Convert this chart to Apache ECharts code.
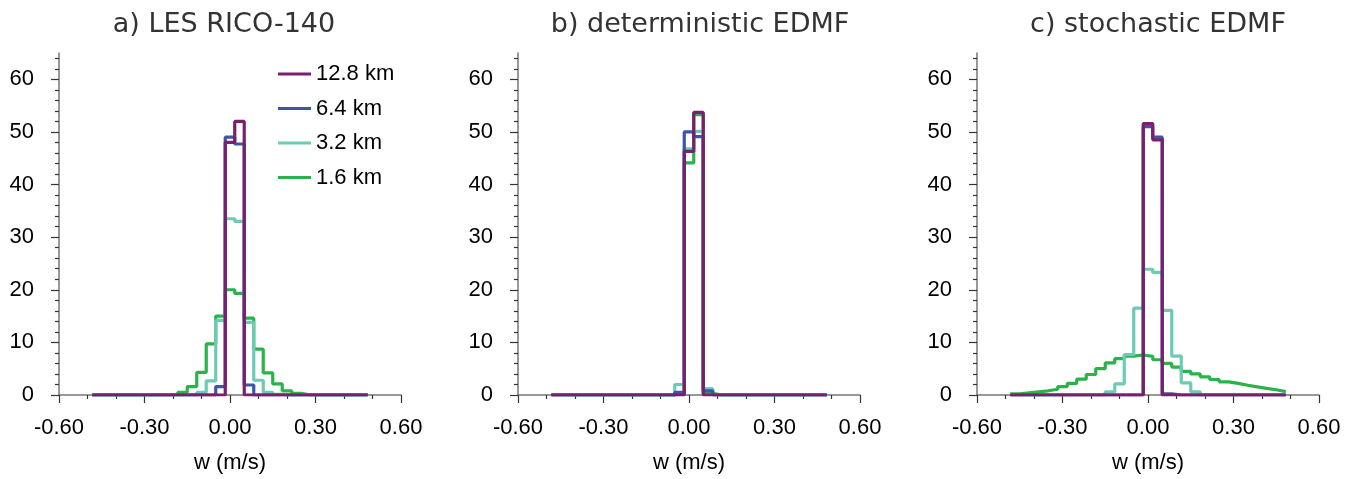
<!DOCTYPE html>
<html>
<head>
<meta charset="utf-8">
<script src="https://cdn.jsdelivr.net/npm/echarts@6/dist/echarts.min.js"></script>
<style>html,body{margin:0;padding:0;background:#fff}#c{width:1353px;height:479px}</style>
</head>
<body>
<div id="c"></div>
<script>
// ---- data ----
const binWidth = 1 / 30;
const binCenters = [-0.4667,-0.4333,-0.4,-0.3667,-0.3333,-0.3,-0.2667,-0.2333,-0.2,-0.1667,-0.1333,-0.1,-0.0667,-0.0333,0,
  0.0333,0.0667,0.1,0.1333,0.1667,0.2,0.2333,0.2667,0.3,0.3333,0.3667,0.4,0.4333,0.4667];
const seriesNames = ['12.8 km','6.4 km','3.2 km','1.6 km'];
const panelTitles = ['a) LES RICO-140','b) deterministic EDMF','c) stochastic EDMF'];
const xTickLabels = ['-0.60','-0.30','0.00','0.30','0.60'];
const yTickLabels = [0,10,20,30,40,50,60];

// panel a: LES
const les128 = [0,0,0,0,0,0,0,0,0,0,0,0,0,0,48.0,52.0,0,0,0,0,0,0,0,0,0,0,0,0,0];
const les64  = [0,0,0,0,0,0,0,0,0,0,0,0,0,1.6,49.0,47.7,1.9,0,0,0,0,0,0,0,0,0,0,0,0];
const les32  = [0,0,0,0,0,0,0,0,0,0,0.1,0.5,2.7,14.2,33.5,33.0,13.8,2.8,0.5,0.1,0,0,0,0,0,0,0,0,0];
const les16  = [0,0,0,0,0,0,0,0,0.1,0.5,1.6,4.3,9.7,15.0,20.0,19.3,14.6,8.7,4.2,2.1,0.8,0.3,0,0,0,0,0,0,0];
// panel b: deterministic EDMF
const det128 = [0,0,0,0,0,0,0,0,0,0,0,0,0,0,46.3,53.7,0,0,0,0,0,0,0,0,0,0,0,0,0];
const det64  = [0,0,0,0,0,0,0,0,0,0,0,0,0,0.5,50.0,49.1,0.8,0,0,0,0,0,0,0,0,0,0,0,0];
const det32  = [0,0,0,0,0,0,0,0,0,0,0,0,0,2.0,46.8,50.1,1.2,0,0,0,0,0,0,0,0,0,0,0,0];
const det16  = [0,0,0,0,0,0,0,0,0,0,0,0,0,0.3,44.1,53.3,0.3,0,0,0,0,0,0,0,0,0,0,0,0];
// panel c: stochastic EDMF
const sto128 = [0,0,0,0,0,0,0,0,0,0,0,0,0,0,51.6,48.5,0,0,0,0,0,0,0,0,0,0,0,0,0];
const sto64  = [0,0,0,0,0,0,0,0,0,0,0,0,0,0,51.0,49.0,0.2,0,0,0,0,0,0,0,0,0,0,0,0];
const sto32  = [0,0,0,0,0,0,0,0,0,0,0.6,2.1,7.7,16.5,23.9,23.3,16.1,7.4,2.3,0.6,0,0,0,0,0,0,0,0,0];
const sto16  = [0.2,0.4,0.6,0.8,1.1,1.6,2.2,3.0,3.9,5.0,6.1,6.9,7.4,7.6,7.35,6.7,6.0,5.3,4.5,4.0,3.45,2.95,2.5,2.2,1.85,1.55,1.25,1.0,0.65];

const panels = [
  [les128, les64, les32, les16],
  [det128, det64, det32, det16],
  [sto128, sto64, sto32, sto16]
];
const colors = ['#7a1f6c','#3b56a8','#6ccbb5','#2bb34b'];

// ---- layout ----
const gridLefts = [59, 518, 977];
const gridWidth = 342, gridTop = 53, gridHeight = 343;
const titleCenters = [219, 695, 1153];
const FONT = 'Liberation Sans';

function stepData(vals) {
  const pts = [];
  vals.forEach((v, i) => {
    pts.push([binCenters[i] - binWidth / 2, v]);
    pts.push([binCenters[i] + binWidth / 2, v]);
  });
  return pts;
}

const grid = [], xAxis = [], yAxis = [], series = [], title = [];
gridLefts.forEach((l, p) => {
  grid.push({left: l, top: gridTop, width: gridWidth, height: gridHeight});
  title.push({text: panelTitles[p], left: titleCenters[p], top: 6, textAlign: 'center',
    textStyle: {fontFamily: 'DejaVu Sans', fontSize: 27, fontWeight: 'normal', color: '#333'}});
  xAxis.push({type: 'value', gridIndex: p, min: -0.6, max: 0.6, interval: 0.3,
    axisLine: {show: true, onZero: false, lineStyle: {color: '#777', width: 1.5}},
    axisTick: {show: true, length: 8, lineStyle: {color: '#333', width: 1.2}},
    minorTick: {show: true, splitNumber: 3, length: 4, lineStyle: {color: '#333', width: 1.2}},
    splitLine: {show: false},
    axisLabel: {margin: 22, fontFamily: FONT, fontSize: 22, color: '#000',
      formatter: v => { const i = Math.round((v + 0.6) / 0.3); return xTickLabels[i]; }},
    name: 'w (m/s)', nameLocation: 'middle', nameGap: 57,
    nameTextStyle: {fontFamily: FONT, fontSize: 22, color: '#000'}
  });
  yAxis.push({type: 'value', gridIndex: p, min: 0, max: 65, interval: 10, position: 'left',
    axisLine: {show: true, onZero: false, lineStyle: {color: '#777', width: 1.5}},
    axisTick: {show: true, length: 8, customValues: yTickLabels, lineStyle: {color: '#333', width: 1.2}},
    splitLine: {show: false},
    axisLabel: {margin: 25, fontFamily: FONT, fontSize: 22, color: '#000', customValues: yTickLabels}
  });
});
gridLefts.forEach((l, p) => {
  const minor = [];
  for (let v = 2; v <= 64; v += 2) if (v % 10 !== 0) minor.push(v);
  yAxis.push({type: 'value', gridIndex: p, min: 0, max: 65, position: 'left',
    axisLine: {show: false, onZero: false}, splitLine: {show: false},
    axisLabel: {show: false},
    axisTick: {show: true, length: 4, customValues: minor, lineStyle: {color: '#333', width: 1.2}}
  });
});
panels.forEach((sets, p) => {
  for (let s = 3; s >= 0; s--) {
    series.push({type: 'line', name: seriesNames[s], xAxisIndex: p, yAxisIndex: p,
      data: stepData(sets[s]), showSymbol: false, symbol: 'none',
      lineStyle: {color: colors[s], width: 3.2}, itemStyle: {color: colors[s]},
      z: 10 - s});
  }
});

const chart = echarts.init(document.getElementById('c'), null, {renderer: 'canvas'});
chart.setOption({
  animation: false,
  backgroundColor: '#fff',
  title, grid, xAxis, yAxis, series,
  legend: {data: seriesNames, orient: 'vertical', left: 273, top: 58,
    itemWidth: 33, itemHeight: 3, itemGap: 12.5, icon: 'rect',
    textStyle: {fontFamily: FONT, fontSize: 22, color: '#000', lineHeight: 22}}
});
</script>
</body>
</html>
